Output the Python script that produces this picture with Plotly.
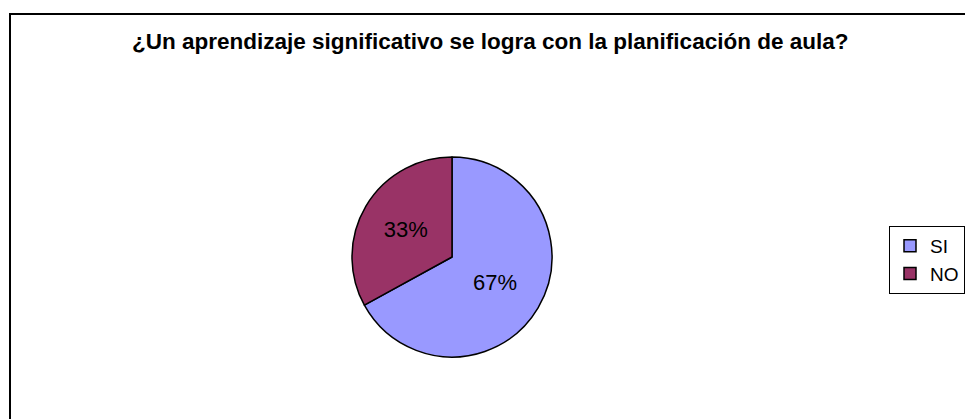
import plotly.graph_objects as go

W, H = 965, 419

labels = ["SI", "NO"]
values = [67, 33]
colors = ["#9999FF", "#993366"]
title_text = "¿Un aprendizaje significativo se logra con la planificación de aula?"


def px_x(x):
    return x / W


def px_y(y):
    return 1 - y / H


fig = go.Figure(
    go.Pie(
        labels=labels,
        values=values,
        sort=False,
        direction="clockwise",
        rotation=0,
        marker=dict(colors=colors, line=dict(color="black", width=1.5)),
        texttemplate="%{percent:.0%}",
        textposition="inside",
        insidetextorientation="horizontal",
        insidetextfont=dict(family="Liberation Sans, Arial", size=22, color="black"),
        domain=dict(x=[px_x(352), px_x(552)], y=[px_y(357), px_y(157)]),
        hoverinfo="label+percent",
    )
)

fig.update_layout(
    width=W,
    height=H,
    margin=dict(l=0, r=0, t=0, b=0),
    paper_bgcolor="white",
    plot_bgcolor="white",
    font=dict(family="Liberation Sans, Arial", color="black"),
    showlegend=True,
    legend=dict(
        x=px_x(965),
        y=px_y(226),
        xanchor="right",
        yanchor="top",
        bordercolor="black",
        borderwidth=1,
        font=dict(size=19),
        itemwidth=30,
        tracegroupgap=0,
    ),
    shapes=[
        dict(
            type="rect",
            xref="paper",
            yref="paper",
            x0=px_x(10),
            y0=px_y(440),
            x1=px_x(990),
            y1=px_y(14),
            line=dict(color="black", width=2),
        )
    ],
    annotations=[
        dict(
            text=f"<b>{title_text}</b>",
            xref="paper",
            yref="paper",
            x=px_x(490),
            y=px_y(42),
            xanchor="center",
            yanchor="middle",
            showarrow=False,
            font=dict(size=22.5),
        )
    ],
)

# drop the default 8px body margin so the figure fills the window exactly
fig.write_html(
    "out.html",
    config={"displayModeBar": False},
    post_script="document.body.style.margin='0';",
)
